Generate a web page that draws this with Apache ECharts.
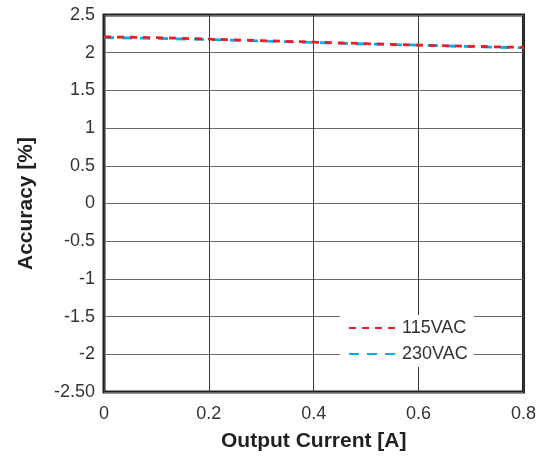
<!DOCTYPE html>
<html><head><meta charset="utf-8">
<script src="https://cdn.jsdelivr.net/npm/echarts@6/dist/echarts.min.js"></script>
<style>html,body{margin:0;padding:0;background:#fff}#c{width:539px;height:457px}</style>
</head><body><div id="c"></div>
<script>
const xValues = [0, 0.1, 0.2, 0.3, 0.4, 0.5, 0.6, 0.7, 0.8];
const acc115 = [2.21, 2.20, 2.18, 2.16, 2.14, 2.12, 2.10, 2.085, 2.07];
const acc230 = [2.20, 2.19, 2.175, 2.155, 2.135, 2.115, 2.10, 2.08, 2.065];
const seriesNames = ['115VAC', '230VAC'];
const FONT = "'Liberation Sans', 'Helvetica', sans-serif";

const chart = echarts.init(document.getElementById('c'), null, {renderer: 'canvas'});
chart.setOption({
  animation: false,
  backgroundColor: '#fff',
  grid: {left: 104, right: 14, top: 15, bottom: 65, show: true, borderColor: '#231f20', borderWidth: 3, backgroundColor: 'transparent'},
  xAxis: {
    type: 'value', min: 0, max: 0.8, interval: 0.2,
    name: 'Output Current [A]', nameLocation: 'middle', nameGap: 39,
    nameTextStyle: {fontFamily: FONT, fontSize: 21, fontWeight: 'bold', color: '#231f20'},
    axisLine: {show: false}, axisTick: {show: false},
    axisLabel: {fontFamily: FONT, fontSize: 18, color: '#333', margin: 13, formatter: v => String(+v.toFixed(1))},
    splitLine: {show: true, lineStyle: {color: '#3a3a3a', width: 1}}
  },
  yAxis: {
    type: 'value', min: -2.5, max: 2.5, interval: 0.5,
    name: 'Accuracy [%]', nameLocation: 'middle', nameGap: 67, nameRotate: 90,
    nameTextStyle: {fontFamily: FONT, fontSize: 21, fontWeight: 'bold', color: '#231f20'},
    axisLine: {show: false}, axisTick: {show: false},
    axisLabel: {fontFamily: FONT, fontSize: 18, color: '#333', margin: 9,
      formatter: v => (Math.abs(v + 2.5) < 1e-9 ? '-2.50' : String(+v.toFixed(1)))},
    splitLine: {show: true, lineStyle: {color: '#6a6a6a', width: 1}}
  },
  legend: {
    orient: 'vertical', left: 340, top: 315, itemGap: 8,
    itemWidth: 48, itemHeight: 14,
    backgroundColor: '#fff', padding: [4, 6, 4, 8],
    itemStyle: {opacity: 0},
    textStyle: {fontFamily: FONT, fontSize: 18, color: '#333'},
    data: seriesNames
  },
  series: [
    {name: seriesNames[0], type: 'line', symbol: 'none', z: 3,
     data: xValues.map((x, i) => [x, acc115[i]]),
     lineStyle: {color: '#ee1c25', width: 2.8, type: [7, 6]}, itemStyle: {color: '#ee1c25'}},
    {name: seriesNames[1], type: 'line', symbol: 'none', z: 2,
     data: xValues.map((x, i) => [x, acc230[i]]),
     lineStyle: {color: '#00aeef', width: 2.8, type: [10, 8]}, itemStyle: {color: '#00aeef'}}
  ]
});
</script></body></html>
